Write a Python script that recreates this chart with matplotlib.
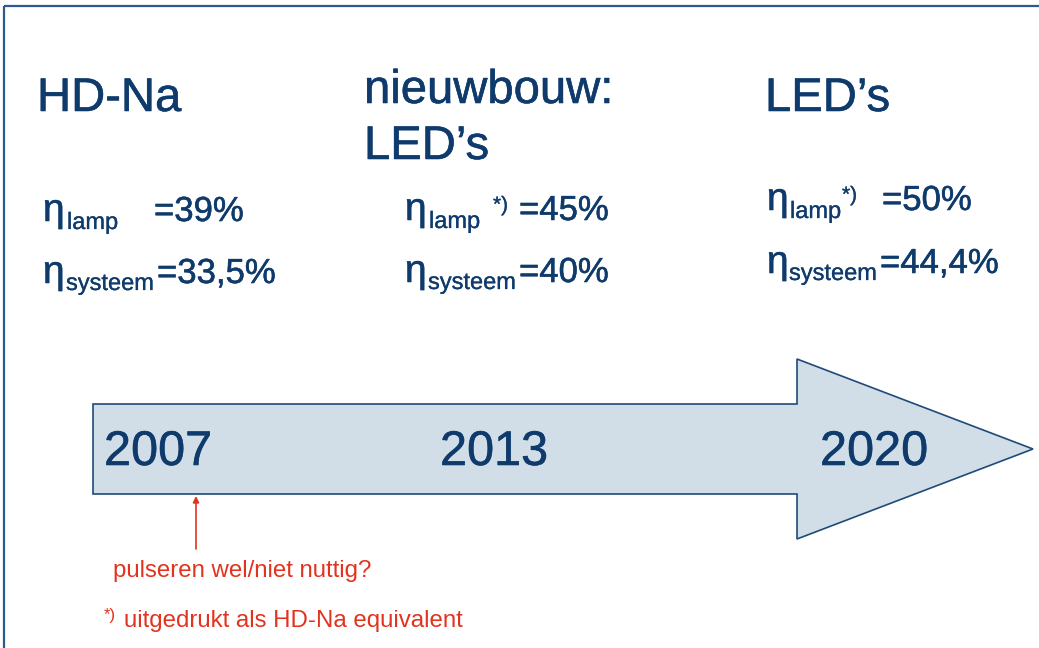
import matplotlib.pyplot as plt
import matplotlib.patheffects as pe
from matplotlib.patches import Polygon

# slide content
headings = ['HD-Na', 'nieuwbouw:', 'LED\u2019s']
heading2 = ['', 'LED\u2019s', '']
years = ['2007', '2013', '2020']
eta_lamp = ['=39%', '=45%', '=50%']
eta_systeem = ['=33,5%', '=40%', '=44,4%']
lamp_note = ['', '*)', '*)']
question = 'pulseren wel/niet nuttig?'
footnote = 'uitgedrukt als HD-Na equivalent'

# layout (pixel coords, y downward)
head_x = [37, 364, 765]
head_y = [111, 103, 111]
eta_x = [43, 405, 767]
sub_x = [67, 429, 790]
note_x = [0, 493, 842]
val1_x = [154, 519, 882]
val2_x = [157, 519, 880]
line1_y = [221, 220, 210]
line2_y = [283, 282, 273]
year_x = [104, 440, 820]

blue = '#0f3b6c'
red = '#e2331e'
font = 'Liberation Sans'


def txt(x, y, s, size, color=blue, stroke=0.4):
    effects = [pe.withStroke(linewidth=stroke, foreground=color)] if stroke else None
    ax.text(x, y, s, fontsize=size, color=color, family=font, va='baseline',
            path_effects=effects)


fig = plt.figure(figsize=(10.39, 6.48), dpi=100)
ax = fig.add_axes([0, 0, 1, 1])
ax.set_xlim(0, 1039)
ax.set_ylim(648, 0)
ax.axis('off')

# frame lines of the slide
ax.plot([4, 1039], [6, 6], color='#2d5a8a', lw=1.6, solid_capstyle='butt')
ax.plot([4, 4], [6, 648], color='#2d5a8a', lw=1.6, solid_capstyle='butt')

# big timeline arrow
arrow_pts = [(93, 404), (797, 404), (797, 359), (1033, 449),
             (797, 539), (797, 494), (93, 494)]
ax.add_patch(Polygon(arrow_pts, closed=True, facecolor='#d1dde7',
                     edgecolor='#1f4a7a', lw=1.2))

for i in range(3):
    txt(head_x[i], head_y[i], headings[i], 34)
    if heading2[i]:
        txt(head_x[i], head_y[i] + 56, heading2[i], 34)
    # eta lamp line
    txt(eta_x[i], line1_y[i], '\u03b7', 28)
    txt(sub_x[i], line1_y[i] + 8, 'lamp', 17, stroke=0.2)
    if lamp_note[i]:
        txt(note_x[i], line1_y[i] - 9, lamp_note[i], 15, stroke=0.2)
    txt(val1_x[i], line1_y[i], eta_lamp[i], 25)
    # eta systeem line
    txt(eta_x[i], line2_y[i], '\u03b7', 28)
    txt(sub_x[i] - 1, line2_y[i] + 7, 'systeem', 17, stroke=0.2)
    txt(val2_x[i], line2_y[i], eta_systeem[i], 25)
    # year on the arrow
    txt(year_x[i], 465, years[i], 35)

# red pointer and remarks
ax.annotate('', xy=(196, 496), xytext=(196, 549),
            arrowprops=dict(arrowstyle='-|>', color=red, lw=1.2,
                            mutation_scale=9, shrinkA=0, shrinkB=0))
txt(113, 577, question, 17.3, red, stroke=0)
txt(104, 620, '*)', 12, red, stroke=0)
txt(124, 627, footnote, 17.3, red, stroke=0)

fig.savefig('out.png', dpi=100)
